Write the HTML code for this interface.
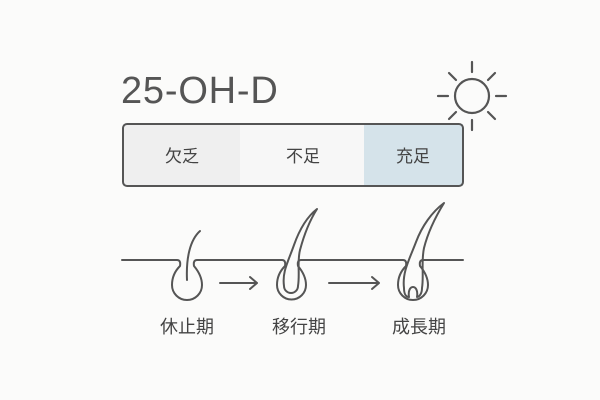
<!DOCTYPE html>
<html><head><meta charset="utf-8"><style>
html,body{margin:0;padding:0;background:#fbfbfa;}
body{width:600px;height:400px;overflow:hidden;position:relative;font-family:"Liberation Sans","Noto Sans CJK JP",sans-serif;}
</style></head><body>
<svg width="600" height="400" viewBox="0 0 600 400" xmlns="http://www.w3.org/2000/svg" style="position:absolute;left:0;top:0">
<g stroke="#555" stroke-width="2.2" stroke-linecap="round" fill="none">
 <circle cx="472" cy="96" r="17"/>
 <line x1="472" y1="62" x2="472" y2="72"/><line x1="472" y1="120" x2="472" y2="130"/>
 <line x1="438" y1="96" x2="448" y2="96"/><line x1="496" y1="96" x2="506" y2="96"/>
 <line x1="449" y1="73" x2="456" y2="80"/><line x1="488" y1="112" x2="495" y2="119"/>
 <line x1="495" y1="73" x2="488" y2="80"/><line x1="449" y1="119" x2="456" y2="112"/>
</g>
<text x="121" y="103" font-family="Liberation Sans, sans-serif" font-size="38" letter-spacing="0.8" fill="#555">25-OH-D</text>
<rect x="123" y="124" width="117" height="62" fill="#efefef"/>
<rect x="240" y="124" width="124" height="62" fill="#f7f7f7"/>
<rect x="364" y="124" width="99" height="62" fill="#d5e3ea"/>
<rect x="123" y="124" width="340" height="62" rx="4" fill="none" stroke="#555" stroke-width="2"/>
<g font-family="Liberation Sans, Noto Sans CJK JP, sans-serif" font-size="17" fill="#444" text-anchor="middle">
 <text x="182" y="162">欠乏</text><text x="303" y="162">不足</text><text x="413" y="162">充足</text>
</g>
<g stroke="#555" stroke-width="2" fill="none" stroke-linecap="round" stroke-linejoin="round">
 <path d="M122 260 H177 Q181 260 180 266 C174 272 172 278 172 285 A15 15 0 0 0 202 285 C202 278 199 272 194 266 Q193 260 197 260 H282 Q286 260 285 266 C279 272 277 278 277 285 A14.5 14.5 0 0 0 306 285 C306 278 303 272 298 266 Q297 260 301 260 H403 Q407 260 406 266 C400 272 398 278 398 285 A15 15 0 0 0 428 285 C428 278 425 272 420 266 Q419 260 423 260 H463"/>
 <path d="M187 280 C186 258 190 240 200 231"/>
 <path d="M284 286 C282 272 288 262 294 245 C300 228 308 216 317 209 C310 220 304 235 300 250 C297 262 300 274 298 286 A7 7 0 0 1 284 286"/>
 <path d="M404 288 C402 272 410 258 416 242 C422 226 432 212 444 203 C436 216 428 232 424 248 C421 262 424 276 422 288 C422 294 419 297 417 297 C418 291 416 287 413 287 C410 287 408 291 409 297 C406 297 404 294 404 288"/>
 <path d="M220 283 H257 M250 277 L257 283 L250 289"/>
 <path d="M329 283 H379 M372 277 L379 283 L372 289"/>
</g>
<g font-family="Liberation Sans, Noto Sans CJK JP, sans-serif" font-size="18" fill="#444" text-anchor="middle">
 <text x="187" y="333">休止期</text><text x="299" y="333">移行期</text><text x="419" y="333">成長期</text>
</g>
</svg>
</body></html>
